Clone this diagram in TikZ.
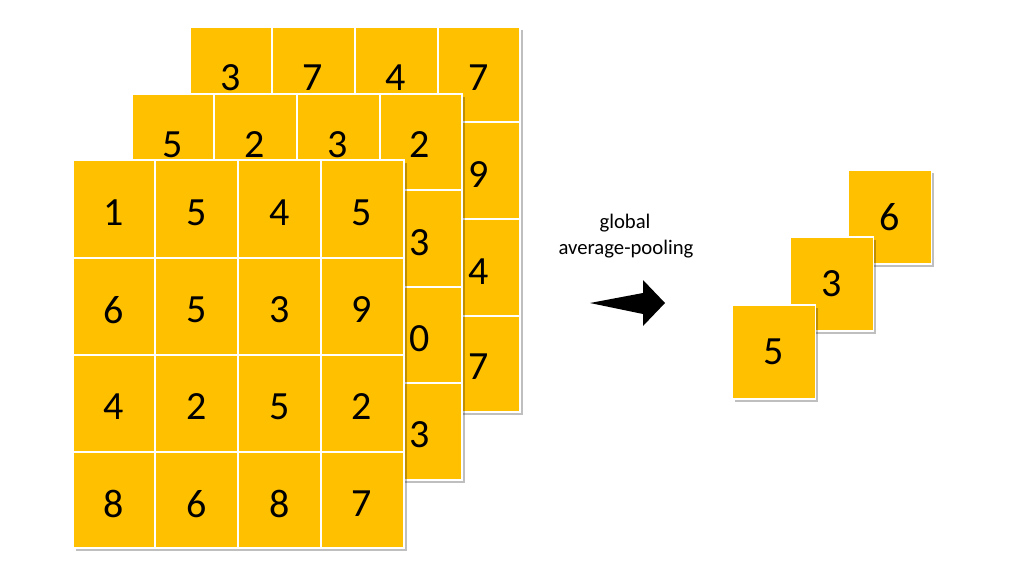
\documentclass[tikz,border=0pt]{standalone}
\usepackage{fontspec}
\setmainfont{Carlito}
\usetikzlibrary{shadows}
\definecolor{gold}{RGB}{255,192,0}

\begin{document}
\begin{tikzpicture}[x=1pt,y=-1pt,
        sheet/.style={fill=gold,draw=white,line width=1.2pt,drop shadow={shadow xshift=2.5pt,shadow yshift=-2.5pt,fill=black,opacity=0.25}},
        rule/.style={white,line width=1.2pt},
        digit/.style={font=\fontsize{40}{48}\selectfont},
        card/.style={sheet,minimum width=83pt,minimum height=94pt,inner sep=0pt,digit},
        poolfont/.style={font=\fontsize{20.7}{26}\selectfont,anchor=base}]
    \useasboundingbox (0,0) rectangle (1024,576);
    % back map
    \draw [sheet] (190,27) rectangle (520,412);
    \draw [rule] (272,27)--(272,412);
    \draw [rule] (355,27)--(355,412);
    \draw [rule] (438,27)--(438,412);
    \draw [rule] (190,122)--(520,122);
    \draw [rule] (190,219)--(520,219);
    \draw [rule] (190,316)--(520,316);
    \node [digit] (back11) at (231,78) {3};
    \node [digit] (back12) at (313,78) {7};
    \node [digit] (back13) at (396,78) {4};
    \node [digit] (back14) at (479,78) {7};
    \node [digit] (back24) at (479,175) {9};
    \node [digit] (back34) at (479,272) {4};
    \node [digit] (back44) at (479,367) {7};
    % middle map
    \draw [sheet] (132,94) rectangle (462,480);
    \draw [rule] (214,94)--(214,480);
    \draw [rule] (297,94)--(297,480);
    \draw [rule] (380,94)--(380,480);
    \draw [rule] (132,190)--(462,190);
    \draw [rule] (132,287)--(462,287);
    \draw [rule] (132,383)--(462,383);
    \node [digit] (mid11) at (173,145) {5};
    \node [digit] (mid12) at (255,145) {2};
    \node [digit] (mid13) at (338,145) {3};
    \node [digit] (mid14) at (420,145) {2};
    \node [digit] (mid24) at (420,243) {3};
    \node [digit] (mid34) at (420,339) {0};
    \node [digit] (mid44) at (420,435) {3};
    % front map
    \draw [sheet] (73,160) rectangle (404,548);
    \draw [rule] (155,160)--(155,548);
    \draw [rule] (238,160)--(238,548);
    \draw [rule] (321,160)--(321,548);
    \draw [rule] (73,258)--(404,258);
    \draw [rule] (73,355)--(404,355);
    \draw [rule] (73,452)--(404,452);
    \node [digit] (front11) at (114,213) {1};
    \node [digit] (front12) at (197,213) {5};
    \node [digit] (front13) at (280,213) {4};
    \node [digit] (front14) at (362,213) {5};
    \node [digit] (front21) at (114,310) {6};
    \node [digit] (front22) at (197,310) {5};
    \node [digit] (front23) at (280,310) {3};
    \node [digit] (front24) at (362,310) {9};
    \node [digit] (front31) at (114,407) {4};
    \node [digit] (front32) at (197,407) {2};
    \node [digit] (front33) at (280,407) {5};
    \node [digit] (front34) at (362,407) {2};
    \node [digit] (front41) at (114,504) {8};
    \node [digit] (front42) at (197,504) {6};
    \node [digit] (front43) at (280,504) {8};
    \node [digit] (front44) at (362,504) {7};
    % arrow and its label
    \fill [black] (590,303)--(643,293)--(643,280)--(665,303)--(643,326)--(643,314)--cycle;
    \node [poolfont] (global) at (625,228) {global};
    \node [poolfont] (avgpool) at (626,254) {average-pooling};
    % pooled values
    \node [card] (pool3) at (890,217) {6};
    \node [card] (pool2) at (832,284) {3};
    \node [card] (pool1) at (774,352) {5};
\end{tikzpicture}
\end{document}
